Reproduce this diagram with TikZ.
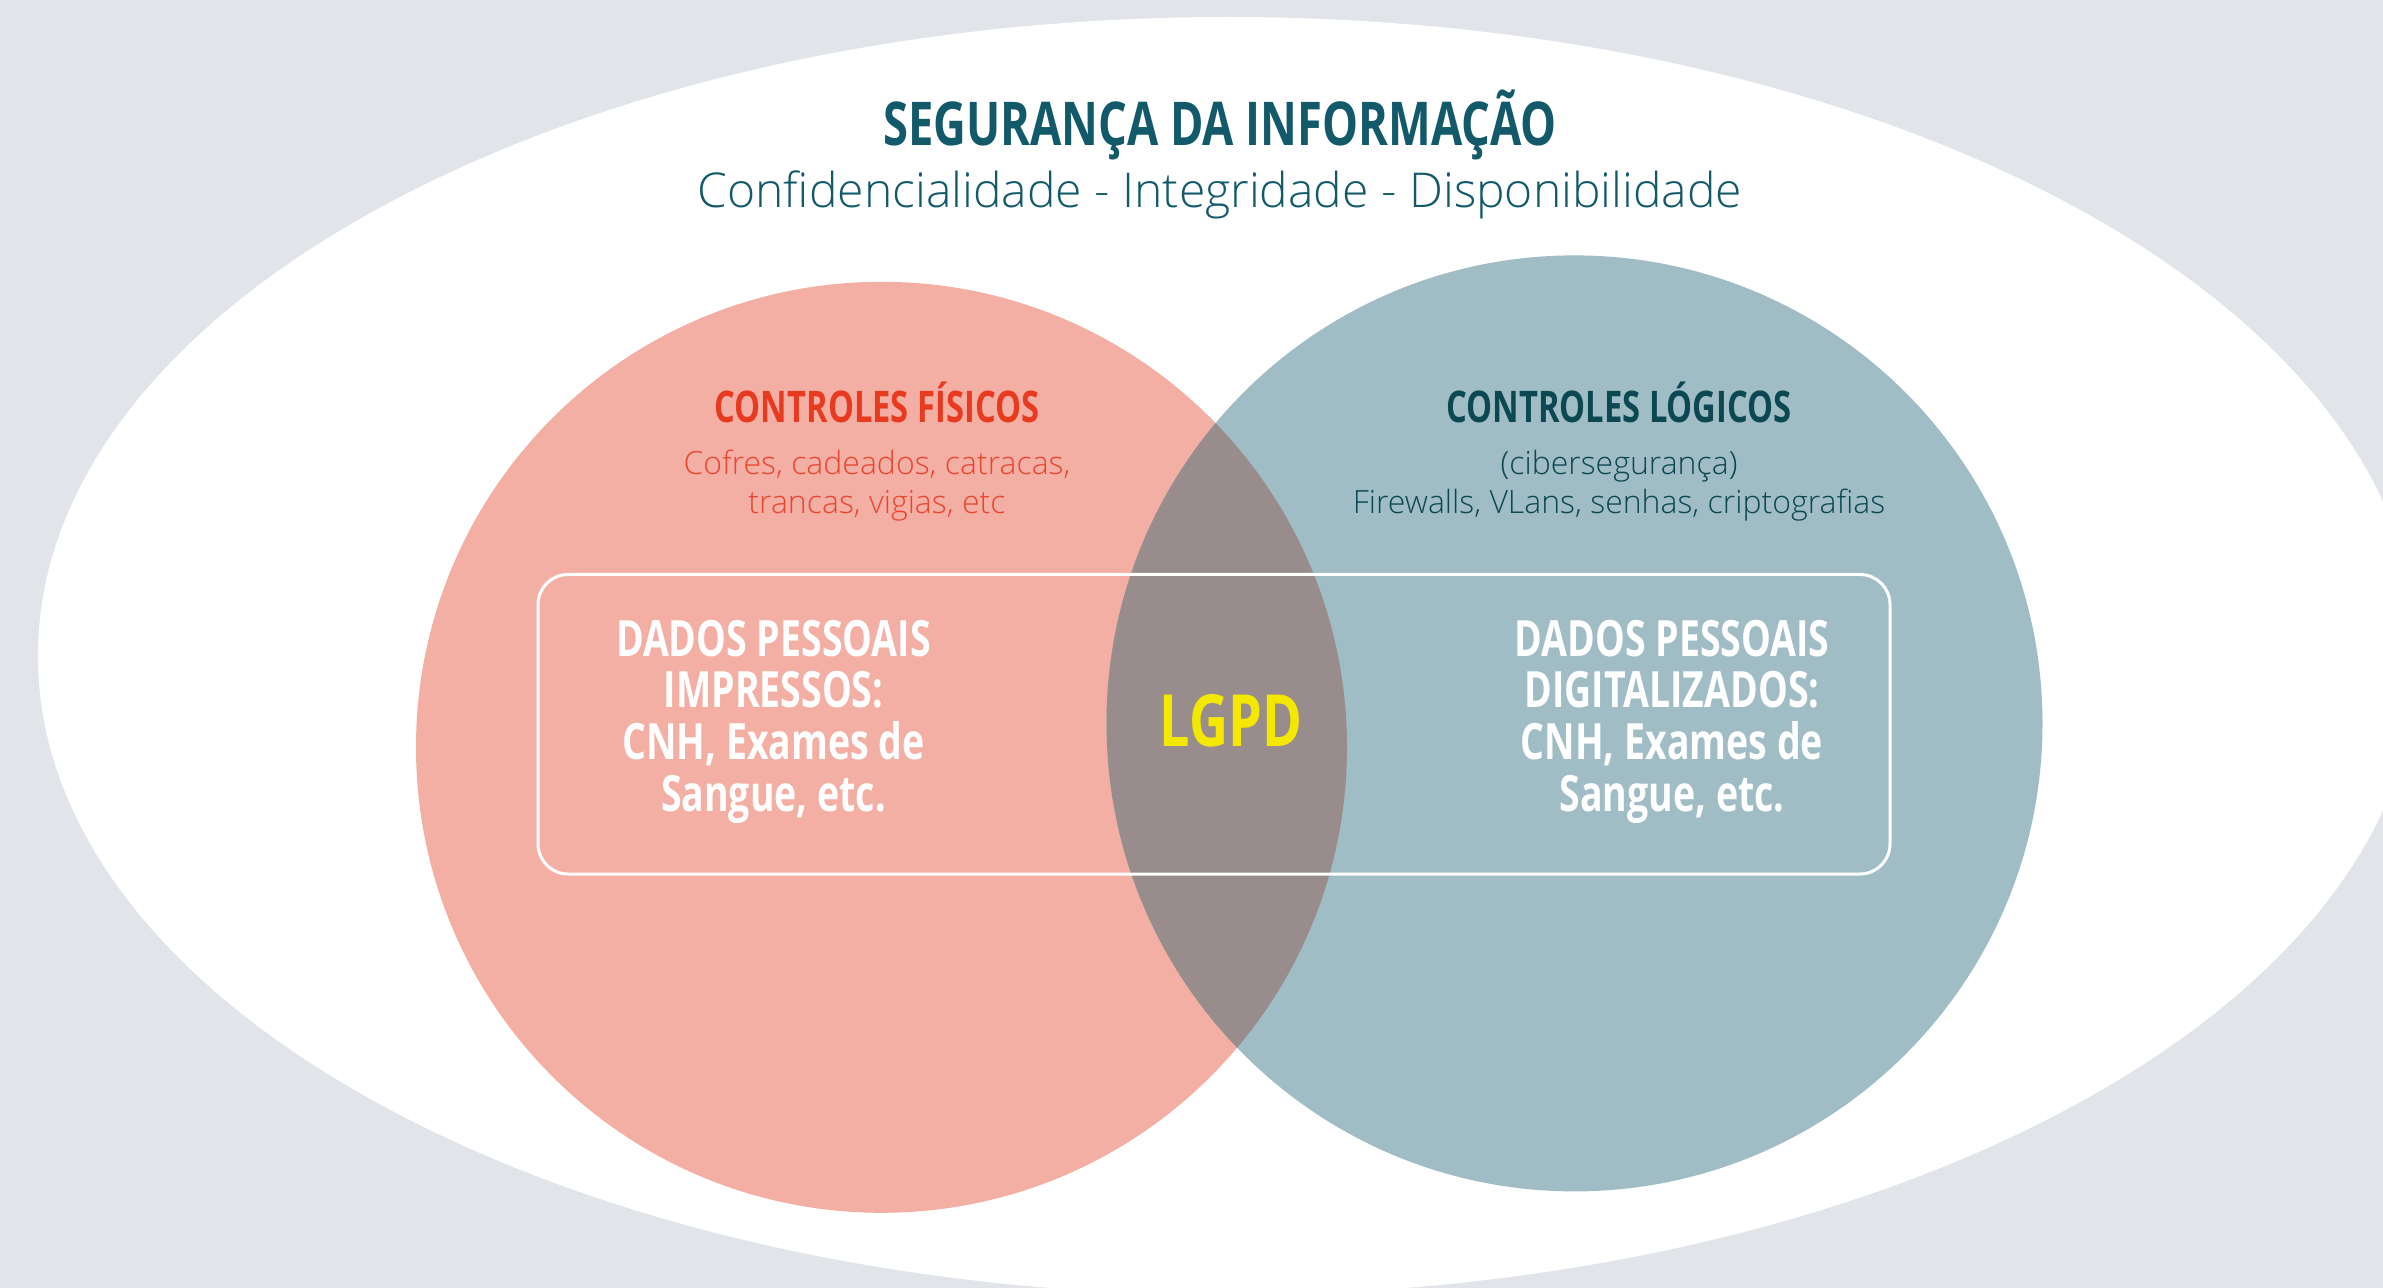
\documentclass[tikz,border=0pt]{standalone}
\usepackage{fontspec}
\setmainfont{Open Sans}
\newfontfamily\oscond{Open Sans}[FakeStretch=0.75]
\newfontfamily\oslight{Open Sans Light}
\definecolor{bgc}{HTML}{E1E5EA}
\definecolor{pinkc}{HTML}{F4AFA5}
\definecolor{bluec}{HTML}{A0BDC5}
\definecolor{overc}{HTML}{988C8C}
\definecolor{titlec}{HTML}{12596A}
\definecolor{redc}{HTML}{E83A1F}
\definecolor{redlc}{HTML}{E8462F}
\definecolor{tealc}{HTML}{0B4852}
\definecolor{lgpdc}{HTML}{F5E800}
\tikzset{
  condbold/.style={font=\oscond\bfseries\fontsize{#1}{#1}\selectfont},
  dados/.style={text=white, align=center, font=\oscond\bfseries\fontsize{25}{25.8}\selectfont},
  ctrl/.style={align=center, font=\oslight\fontsize{16}{19.6}\selectfont},
}
\begin{document}
\begin{tikzpicture}[x=0.5pt,y=-0.5pt]
\useasboundingbox (0,0) rectangle (2383,1288);
\fill[bgc] (0,0) rectangle (2383,1288);
\begin{scope}
\clip (0,0) rectangle (2383,1288);
\fill[white] (1228,656) ellipse [x radius=1190, y radius=639];
\end{scope}
% circles
\fill[pinkc] (881.5,747.3) circle [radius=465.5];
\fill[bluec] (1574.5,723.4) circle [radius=468];
\begin{scope}
\clip (881.5,747.3) circle [radius=465.5];
\fill[overc] (1574.5,723.4) circle [radius=468];
\end{scope}
% frame
\draw[white, line width=1.5pt, rounded corners=15pt] (538,574.5) rectangle (1890,874);
% texts
\node[text=titlec, condbold=30.2, inner sep=0] (title) at (1220,125) {SEGURANÇA DA INFORMAÇÃO};
\node[text=titlec, font=\oslight\fontsize{24}{29}\selectfont, inner sep=0] (sub) at (1220,195) {Confidencialidade - Integridade - Disponibilidade};
\node[text=redc, condbold=21.8, inner sep=0] (cfis) at (877,402.5) {CONTROLES FÍSICOS};
\node[text=redlc, ctrl, inner sep=0] (cfisd) at (877,485.5) {Cofres, cadeados, catracas,\\trancas, vigias, etc};
\node[text=tealc, condbold=21.8, inner sep=0] (clog) at (1619,402.5) {CONTROLES LÓGICOS};
\node[text=tealc, ctrl, inner sep=0] (clogd) at (1619,485.5) {(cibersegurança)\\Firewalls, VLans, senhas, criptografias};
\node[dados, inner sep=0] (dimp) at (773.5,721.5) {DADOS PESSOAIS\\IMPRESSOS:\\CNH, Exames de\\Sangue, etc.};
\node[dados, inner sep=0] (ddig) at (1672,721.5) {DADOS PESSOAIS\\DIGITALIZADOS:\\CNH, Exames de\\Sangue, etc.};
\node[text=lgpdc, condbold=36, inner sep=0] (lgpd) at (1231,721) {LGPD};
\end{tikzpicture}
\end{document}
